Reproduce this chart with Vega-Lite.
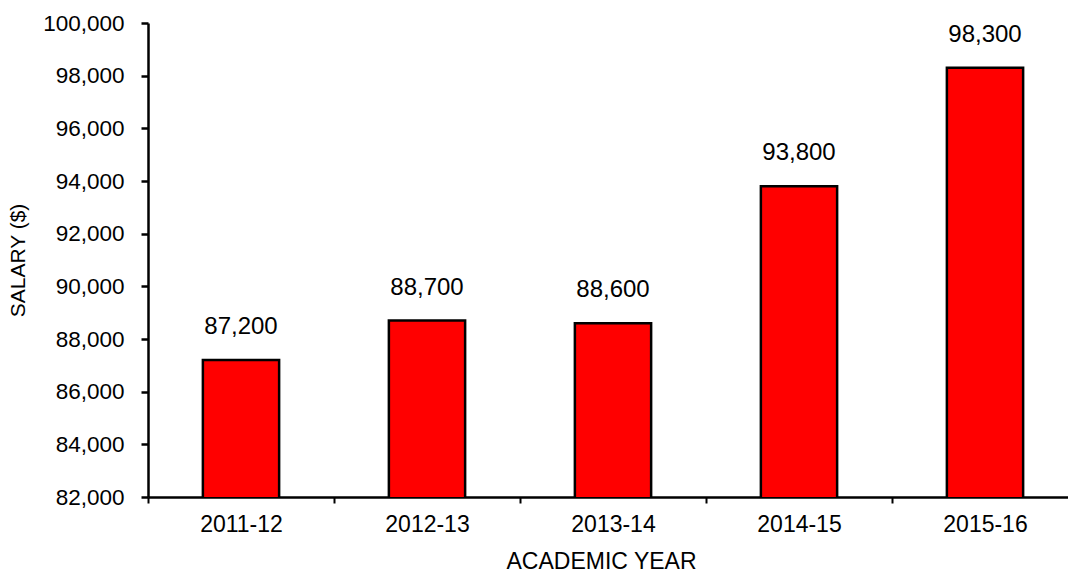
{
  "$schema": "https://vega.github.io/schema/vega-lite/v6.json",
  "autosize": {"type": "none"},
  "padding": {"left": 148, "top": 23, "right": 0, "bottom": 76},
  "width": 930,
  "height": 474,
  "background": "white",
  "config": {
    "view": {"stroke": null},
    "font": "Liberation Sans"
  },
  "data": {
    "values": [
      {"year": "2011-12", "salary": 87200},
      {"year": "2012-13", "salary": 88700},
      {"year": "2013-14", "salary": 88600},
      {"year": "2014-15", "salary": 93800},
      {"year": "2015-16", "salary": 98300}
    ]
  },
  "encoding": {
    "x": {
      "field": "year",
      "type": "nominal",
      "sort": null,
      "scale": {"paddingInner": 0, "paddingOuter": 0},
      "axis": {
        "title": "ACADEMIC YEAR",
        "labelAngle": 0,
        "labelFont": "Liberation Sans",
        "labelFontSize": 23,
        "labelColor": "black",
        "labelPadding": 10,
        "tickBand": "extent",
        "tickColor": "black",
        "tickWidth": 2,
        "tickSize": 6,
        "domainColor": "black",
        "domainWidth": 2.5,
        "titleFont": "Liberation Sans",
        "titleFontSize": 23,
        "titleFontWeight": "normal",
        "titleColor": "black",
        "titlePadding": 14,
        "titleX": 453,
        "titleAlign": "center"
      }
    },
    "y": {
      "field": "salary",
      "type": "quantitative",
      "scale": {"domain": [82000, 100000], "zero": false, "nice": false},
      "axis": {
        "title": "SALARY ($)",
        "values": [82000, 84000, 86000, 88000, 90000, 92000, 94000, 96000, 98000, 100000],
        "format": ",d",
        "grid": false,
        "labelFont": "Liberation Sans",
        "labelFontSize": 22.5,
        "labelColor": "black",
        "labelPadding": 17,
        "tickColor": "black",
        "tickWidth": 2.5,
        "tickSize": 7,
        "domainColor": "black",
        "domainWidth": 2.5,
        "titleFont": "Liberation Sans",
        "titleFontSize": 21,
        "titleFontWeight": "normal",
        "titleColor": "black",
        "titlePadding": 14
      }
    }
  },
  "layer": [
    {
      "mark": {"type": "bar", "clip": true, "width": {"band": 0.41}, "color": "#FF0000", "stroke": "black", "strokeWidth": 2.5}
    },
    {
      "mark": {"type": "text", "baseline": "middle", "dy": -33, "font": "Liberation Sans", "fontSize": 24, "color": "black"},
      "encoding": {"text": {"field": "salary", "type": "quantitative", "format": ",d"}}
    }
  ]
}
